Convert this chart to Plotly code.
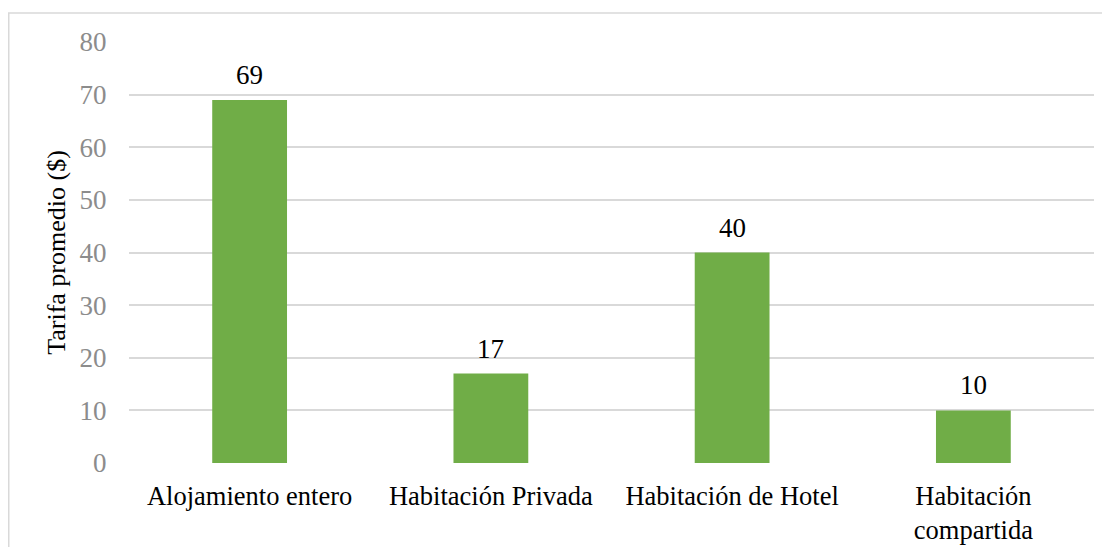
import plotly.graph_objects as go

# Chart data
categories = [
    "Alojamiento entero",
    "Habitación Privada",
    "Habitación de Hotel",
    "Habitación<br>compartida",
]
tarifa = [69, 17, 40, 10]
y_ticks = [0, 10, 20, 30, 40, 50, 60, 70, 80]

FONT = "Liberation Serif, Times New Roman, serif"
GRID = "#d9d9d9"
SIZE = 27

fig = go.Figure(
    go.Bar(
        x=categories,
        y=tarifa,
        marker_color="#70ad47",
        marker_line_width=0,
        hoverinfo="x+y",
    )
)

# Value labels above each bar
for cat, val in zip(categories, tarifa):
    fig.add_annotation(
        x=cat,
        y=val,
        text=str(val),
        showarrow=False,
        yanchor="bottom",
        yshift=8,
        font=dict(family=FONT, size=SIZE, color="#000000"),
    )

# the page body adds an 8px offset, margins account for it
fig.update_layout(
    width=1110,
    height=547,
    margin=dict(l=121, r=24, t=34, b=92),
    paper_bgcolor="white",
    plot_bgcolor="white",
    bargap=0.69,
    showlegend=False,
    font=dict(family=FONT, size=SIZE, color="#000000"),
    xaxis=dict(
        automargin=False,
        showgrid=False,
        showline=False,
        ticks="outside",
        ticklen=9,
        tickcolor="rgba(0,0,0,0)",
        tickfont=dict(family=FONT, size=26.5, color="#000000"),
    ),
    yaxis=dict(
        automargin=False,
        range=[0, 80],
        tickvals=y_ticks,
        showgrid=True,
        gridcolor=GRID,
        gridwidth=1.5,
        zeroline=False,
        showline=False,
        ticks="outside",
        ticklen=16,
        tickcolor="rgba(0,0,0,0)",
        tickfont=dict(family=FONT, size=SIZE, color="#8c8c8c"),
        title=dict(
            text="Tarifa promedio ($)",
            font=dict(family=FONT, size=26, color="#000000"),
            standoff=6,
        ),
    ),
)

# Chart frame (extends past the right and bottom edges of the picture)
fig.add_shape(
    type="rect",
    xref="paper",
    yref="paper",
    x0=-0.1246,
    x1=1.05,
    y0=-0.25,
    y1=1.0689,
    line=dict(color=GRID, width=1.5),
    fillcolor="rgba(0,0,0,0)",
    layer="below",
)

fig.write_html("out.html")
